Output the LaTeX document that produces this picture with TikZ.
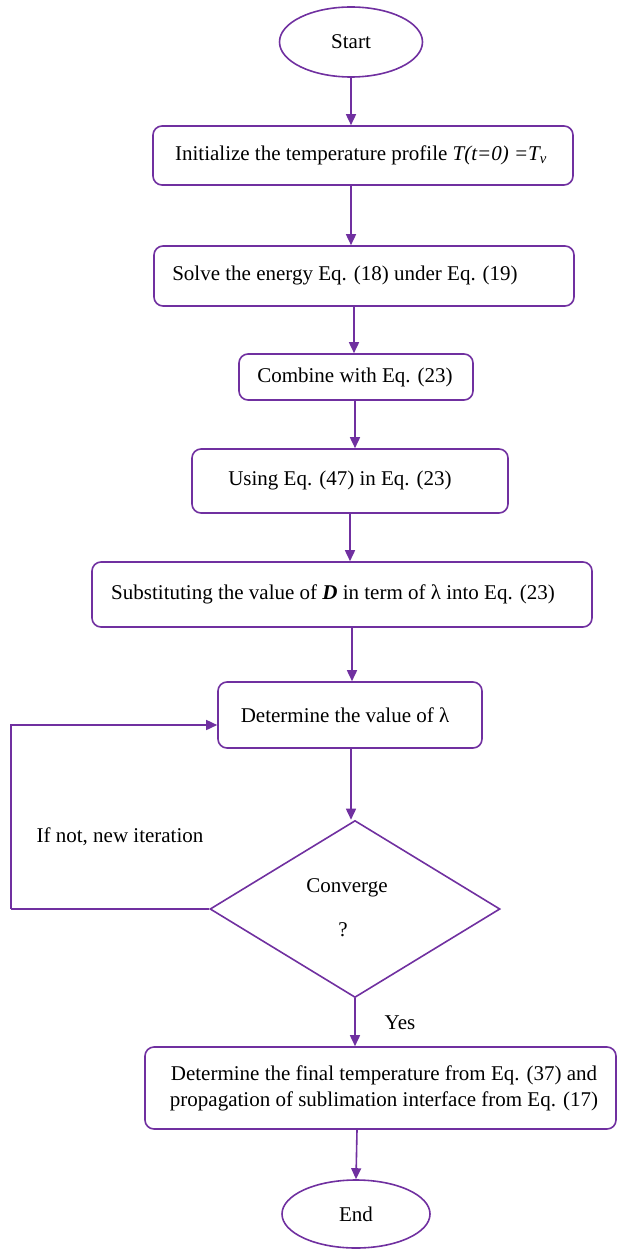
\documentclass[tikz,border=0pt]{standalone}
\usepackage{fontspec}
\setmainfont{Liberation Serif}
\usetikzlibrary{arrows.meta,shapes.geometric}
\definecolor{pur}{HTML}{7030A0}
\begin{document}
\begin{tikzpicture}[x=1pt,y=-1pt,
  every node/.style={font=\fontsize{21}{26}\selectfont},
  stepbox/.style={draw=pur,line width=1.6pt,rounded corners=9pt,inner sep=0pt,align=center},
  term/.style={draw=pur,line width=1.6pt,ellipse,inner sep=0pt},
  arr/.style={draw=pur,line width=1.6pt,-{Triangle[length=11pt,width=10pt]}}]
\useasboundingbox (0,0) rectangle (616,1249);
\node[term,minimum width=143pt,minimum height=70pt] (start) at (351,42) {Start};
\node[stepbox,minimum width=420pt,minimum height=59pt] (b1) at (363,155.5) {Initialize the temperature profile \textit{T(t=0) =T\textsubscript{v}}\hspace*{4pt}};
\node[stepbox,minimum width=420pt,minimum height=60pt] (b2) at (364,276) {\raisebox{6pt}{Solve the energy Eq. (18) under Eq. (19)}\hspace*{38pt}};
\node[stepbox,minimum width=234pt,minimum height=46pt] (b3) at (356,377) {Combine with Eq. (23)\hspace*{2pt}};
\node[stepbox,minimum width=316pt,minimum height=64pt] (b4) at (350,481) {\raisebox{6pt}{Using Eq. (47) in Eq. (23)}\hspace*{20pt}};
\node[stepbox,minimum width=500pt,minimum height=65pt] (b5) at (342,594.5) {\makebox[0pt]{\raisebox{-5pt}{Substituting the value of \textbf{\textit{D}} in term of λ into Eq. (23)}\hspace*{18pt}}};
\node[stepbox,minimum width=264pt,minimum height=66pt] (b6) at (350,715) {Determine the value of λ\hspace*{10pt}};
\node[draw=pur,line width=1.6pt,diamond,inner sep=0pt,minimum width=290pt,minimum height=177pt] (dia) at (355,909) {};
\node (conv) at (347,888) {Converge};
\node (q) at (343,930) {?};
\node[stepbox,minimum width=471pt,minimum height=82pt] (b7) at (380.5,1088) {\hspace*{7pt}Determine the final temperature from Eq. (37) and\\\hspace*{7pt}propagation of sublimation interface from Eq. (17)};
\node[term,minimum width=148pt,minimum height=68pt] (end) at (356,1214) {End};
\node (nl) at (120,837) {If not, new iteration};
\node (yes) at (400,1023) {Yes};
\coordinate (lx) at (11,0);
\draw[arr] (start.south) -- (b1.north -| start.south);
\draw[arr] ([xshift=-12pt]b1.south) -- ([xshift=-13pt]b2.north);
\draw[arr] ([xshift=-10pt]b2.south) -- ([xshift=-2pt]b3.north);
\draw[arr] ([xshift=-1pt]b3.south) -- ([xshift=5pt]b4.north);
\draw[arr] (b4.south) -- ([xshift=8pt]b5.north);
\draw[arr] ([xshift=10pt]b5.south) -- ([xshift=2pt]b6.north);
\draw[arr] ([xshift=1pt]b6.south) coordinate (c6) -- (dia.north -| c6);
\draw[pur,line width=1.6pt] (dia.west) -- (dia.west -| lx) coordinate (lc);
\draw[arr] (lc) |- ([yshift=-10pt]b6.west);
\draw[arr] (dia.south) -- (b7.north -| dia.south);
\draw[arr] ([xshift=-23.5pt]b7.south) -- (end.north);
\end{tikzpicture}
\end{document}
